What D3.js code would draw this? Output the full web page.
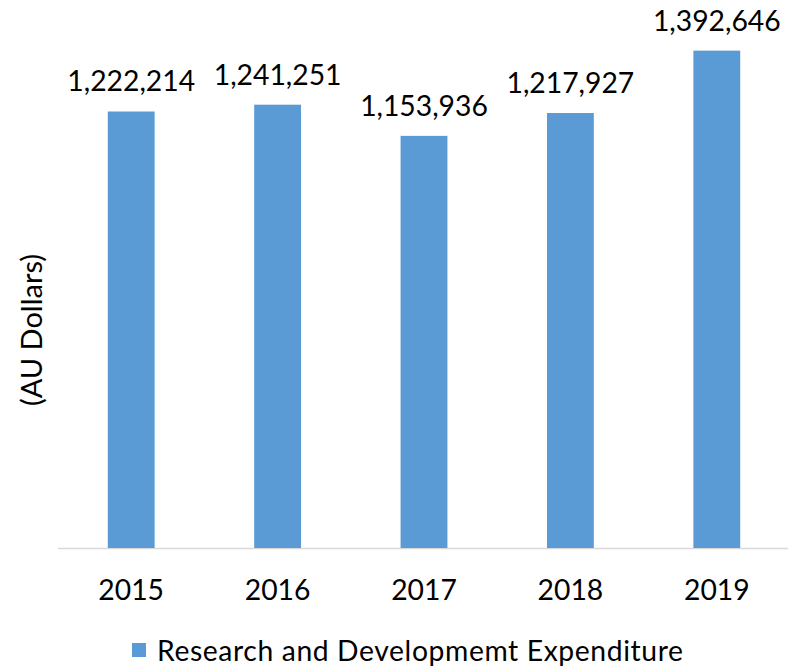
<!DOCTYPE html>
<html><head><meta charset="utf-8">
<script src="https://cdn.jsdelivr.net/npm/d3@7"></script>
<style>body{margin:0;background:#fff}svg{display:block}</style>
</head><body>
<svg id="c" width="788" height="667"></svg>
<script>
const years = ["2015","2016","2017","2018","2019"];
const values = [1222214, 1241251, 1153936, 1217927, 1392646];
const seriesName = "Research and Developmemt Expenditure";
const yTitle = "(AU Dollars)";

const svg = d3.select("#c");
const font = "Lato, 'Open Sans', sans-serif";
const x = d3.scaleBand().domain(years).range([58, 790]).paddingInner(0.68).paddingOuter(0.34);
const y = d3.scaleLinear().domain([0, 1400000]).range([548, 48]);

svg.append("line").attr("x1", 58).attr("x2", 788).attr("y1", 548.5).attr("y2", 548.5)
  .attr("stroke", "#d9d9d9").attr("stroke-width", 1.5);

svg.selectAll("rect.bar").data(values).join("rect").attr("class","bar")
  .attr("x", (d,i)=>x(years[i])).attr("width", x.bandwidth())
  .attr("y", d=>y(d)).attr("height", d=>y(0)-y(d)).attr("fill", "#5b9bd5");

const fmt = d3.format(",");
svg.selectAll("text.val").data(values).join("text").attr("class","val")
  .attr("x", (d,i)=>x(years[i])+x.bandwidth()/2).attr("y", d=>y(d)-20)
  .attr("text-anchor","middle").attr("font-family", font).attr("font-size", 28.3)
  .attr("fill","#000").text(d=>fmt(d));

const xAxis = svg.append("g").attr("transform","translate(0,548)")
  .call(d3.axisBottom(x).tickSize(0).tickPadding(30));
xAxis.select(".domain").remove();
xAxis.selectAll("text").attr("font-family", font).attr("font-size", 28.3).attr("fill","#000").attr("dy", 0).attr("y", 52);

svg.append("text").attr("transform","translate(42,330) rotate(-90)")
  .attr("text-anchor","middle").attr("font-family", font).attr("font-size", 29)
  .attr("fill","#000").text(yTitle);

const lg = svg.append("g");
lg.append("rect").attr("x",132).attr("y",643).attr("width",14).attr("height",14).attr("fill","#5b9bd5");
lg.append("text").attr("x",157).attr("y",661).attr("font-family", font).attr("font-size", 28.3)
  .attr("textLength", 526).attr("lengthAdjust","spacing")
  .attr("fill","#000").text(seriesName);
</script>
</body></html>
